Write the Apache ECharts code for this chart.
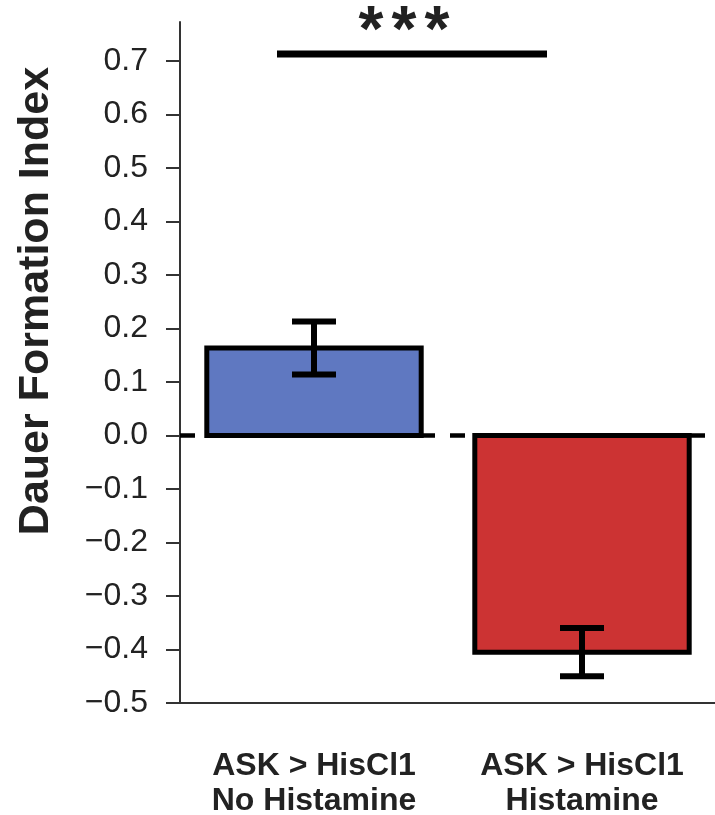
<!DOCTYPE html>
<html>
<head>
<meta charset="utf-8">
<script src="https://cdn.jsdelivr.net/npm/echarts@6/dist/echarts.min.js"></script>
<style>
    html, body { margin: 0; padding: 0; background: #fff; }
    #main { width: 715px; height: 815px; }
</style>
</head>
<body>
<div id="main"></div>
<script>
// 数据
const categories = ['ASK > HisCl1\nNo Histamine', 'ASK > HisCl1\nHistamine'];
const means = [0.1635, -0.405];
const errors = [0.0495, 0.045];
const barColors = ['#5F78C1', '#CC3333'];
const yTicks = [-0.5, -0.4, -0.3, -0.2, -0.1, 0.0, 0.1, 0.2, 0.3, 0.4, 0.5, 0.6, 0.7];

const font = '"Liberation Sans", Arial, Helvetica, sans-serif';

let myChart = echarts.init(document.getElementById('main'));

// 星号（显著性标记）
let stars = [371, 404, 437].map(x => ({
    type: 'text',
    x: x,
    y: 1,
    style: {
        text: '*',
        fill: '#222',
        font: 'bold 64px ' + font,
        align: 'center',
        verticalAlign: 'top'
    }
}));

let option = {
    animation: false,
    grid: {     //图表位置
        left: 180,
        top: 22,
        width: 536,
        height: 681,
        outerBoundsMode: 'none'
    },
    xAxis: {
        type: 'category',
        data: categories,
        axisLine: {
            onZero: false,      //x轴放在底部
            lineStyle: { color: '#333', width: 2 }
        },
        axisTick: {
            alignWithLabel: true,
            length: 14,
            lineStyle: { color: '#333', width: 2 }
        },
        axisLabel: {
            margin: 46,
            color: '#222',
            fontFamily: font,
            fontWeight: 'bold',
            fontSize: 32,
            lineHeight: 35
        }
    },
    yAxis: {
        type: 'value',
        min: -0.5,
        max: 0.773,
        splitLine: { show: false },
        axisLine: {
            show: true,
            lineStyle: { color: '#333', width: 2 }
        },
        axisTick: {
            show: true,
            length: 14,
            customValues: yTicks,
            lineStyle: { color: '#333', width: 2 }
        },
        axisLabel: {
            customValues: yTicks,
            margin: 32,
            color: '#222',
            fontFamily: font,
            fontSize: 32,
            formatter: function (v) {
                return v < 0 ? '\u2212' + Math.abs(v).toFixed(1) : v.toFixed(1);
            }
        }
    },
    graphic: [
        {   // y轴标题
            type: 'text',
            x: 36,
            y: 301,
            rotation: Math.PI / 2,
            style: {
                text: 'Dauer Formation Index',
                fill: '#222',
                font: 'bold 43px ' + font,
                align: 'center',
                verticalAlign: 'middle'
            }
        },
        {   // 显著性横线
            type: 'line',
            shape: { x1: 277, y1: 54, x2: 547, y2: 54 },
            style: { stroke: '#000', lineWidth: 7 }
        }
    ].concat(stars),
    series: [
        {   // 柱子（边框居中于数值位置）
            type: 'custom',
            z: 2,
            data: means.map((v, i) => [i, v]),
            encode: { x: 0, y: 1 },
            renderItem: function (params, api) {
                const base = api.coord([api.value(0), 0]);
                const tip = api.coord([api.value(0), api.value(1)]);
                const w = api.size([1, 0])[0] * 0.8;
                return {
                    type: 'rect',
                    shape: {
                        x: base[0] - w / 2,
                        y: Math.min(base[1], tip[1]),
                        width: w,
                        height: Math.abs(base[1] - tip[1])
                    },
                    style: {
                        fill: barColors[params.dataIndex],
                        stroke: '#000',
                        lineWidth: 5
                    }
                };
            },
            markLine: {     //零线
                silent: true,
                symbol: 'none',
                label: { show: false },
                z: 1,
                lineStyle: {
                    color: '#000',
                    width: 4.5,
                    type: [15, 15]
                },
                data: [{ yAxis: 0 }]
            }
        },
        {   // 误差线
            type: 'custom',
            z: 5,
            data: means.map((v, i) => [i, v - errors[i], v + errors[i]]),
            encode: { x: 0, y: [1, 2] },
            renderItem: function (params, api) {
                const top = api.coord([api.value(0), api.value(2)]);
                const bot = api.coord([api.value(0), api.value(1)]);
                const hw = 22;
                const st = { stroke: '#000', lineWidth: 6 };
                return {
                    type: 'group',
                    children: [
                        { type: 'line', shape: { x1: top[0], y1: top[1], x2: bot[0], y2: bot[1] }, style: st },
                        { type: 'line', shape: { x1: top[0] - hw, y1: top[1], x2: top[0] + hw, y2: top[1] }, style: st },
                        { type: 'line', shape: { x1: bot[0] - hw, y1: bot[1], x2: bot[0] + hw, y2: bot[1] }, style: st }
                    ]
                };
            }
        }
    ]
};

myChart.setOption(option);
</script>
</body>
</html>
